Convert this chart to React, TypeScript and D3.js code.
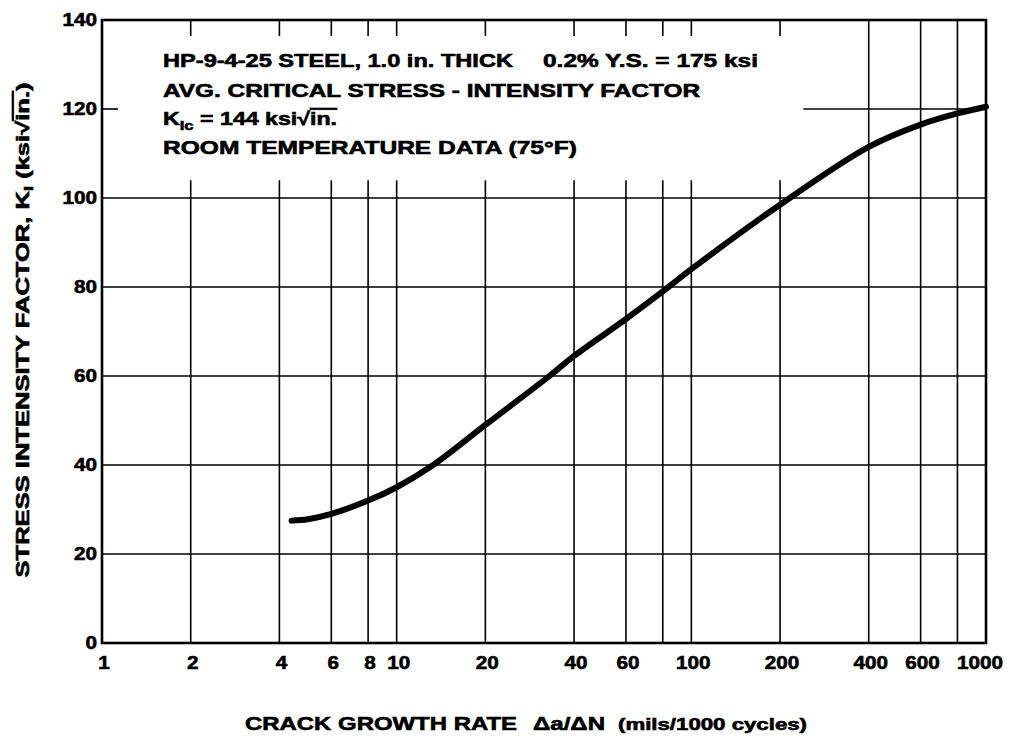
import React from 'react';
import * as d3 from 'd3';

// Crack growth rate (mils/1000 cycles) vs stress intensity factor K (ksi√in.)
const rateValues = [4.4, 5, 6, 8, 10, 13.3, 20, 33, 40, 60, 80, 100, 200, 400, 600, 800, 1000];
const kValues = [27.5, 27.8, 29, 32, 35, 40, 49, 60, 64.5, 72.8, 79, 84, 98.5, 111.5, 116.5, 119, 120.5];

const xTickLabels = [1, 2, 4, 6, 8, 10, 20, 40, 60, 100, 200, 400, 600, 1000];
const yTicks = [0, 20, 40, 60, 80, 100, 120, 140];
const fullVertical = [400, 600, 800];
const partialVertical = [2, 4, 6, 8, 10, 20, 40, 60, 80, 100, 200];
const fullHorizontal = [20, 40, 60, 80, 100];
const kicLineStart = 240;
const partialTop = 104;

const FONT = '"Liberation Sans", Arial, Helvetica, sans-serif';

export default function App() {
  const width = 1010;
  const height = 744;
  const left = 102, right = 986, top = 20, bottom = 643;
  const x = d3.scaleLog().domain([1, 1000]).range([left, right]);
  const y = d3.scaleLinear().domain([0, 140]).range([bottom, top]);

  const line = d3
    .line<number>()
    .x((_, i) => x(rateValues[i]))
    .y((d) => y(d))
    .curve(d3.curveCatmullRom.alpha(0.5));

  const gridStroke = 1.6;
  const tickLen = 16;
  const digitW = 11.5;

  return (
    <svg
      width={width}
      height={height}
      style={{ position: 'absolute', left: 0, top: 0, background: '#fff' }}
      fontFamily={FONT}
      fontWeight="bold"
    >
      <rect x={0} y={0} width={width} height={height} fill="#fff" />
      {/* horizontal grid lines */}
      {fullHorizontal.map((v) => (
        <line key={'h' + v} x1={left} x2={right} y1={y(v)} y2={y(v)} stroke="#000" strokeWidth={gridStroke} />
      ))}
      {/* 120 line: tick at left, partial line at right */}
      <line x1={left} x2={left + tickLen} y1={y(120)} y2={y(120)} stroke="#000" strokeWidth={gridStroke} />
      <line x1={x(kicLineStart)} x2={right} y1={y(120)} y2={y(120)} stroke="#000" strokeWidth={gridStroke} />
      {/* vertical grid lines */}
      {fullVertical.map((v) => (
        <line key={'fv' + v} x1={x(v)} x2={x(v)} y1={top} y2={bottom} stroke="#000" strokeWidth={gridStroke} />
      ))}
      {partialVertical.map((v) => (
        <g key={'pv' + v}>
          <line x1={x(v)} x2={x(v)} y1={y(partialTop)} y2={bottom} stroke="#000" strokeWidth={gridStroke} />
          <line x1={x(v)} x2={x(v)} y1={top} y2={top + tickLen} stroke="#000" strokeWidth={gridStroke} />
        </g>
      ))}
      {/* frame */}
      <rect x={left} y={top} width={right - left} height={bottom - top} fill="none" stroke="#000" strokeWidth={2.6} />

      {/* curve */}
      <path d={line(kValues) || ''} fill="none" stroke="#000" strokeWidth={6} strokeLinecap="round" strokeLinejoin="round" />

      <g stroke="#000" strokeWidth={0.6}>
        {/* y tick labels */}
        {yTicks.map((v) => (
          <text key={'yt' + v} x={left - 5} y={y(v)} dy="0.36em" textAnchor="end" fontSize={18}
            textLength={String(v).length * digitW} lengthAdjust="spacingAndGlyphs">
            {v}
          </text>
        ))}
        {/* x tick labels */}
        {xTickLabels.map((v) => (
          <text key={'xt' + v} x={v === 1000 ? x(v) - 6 : x(v) + 2} y={669} textAnchor="middle" fontSize={18}
            textLength={String(v).length * digitW} lengthAdjust="spacingAndGlyphs">
            {v}
          </text>
        ))}

        {/* annotation */}
        <g fontSize={18}>
          <text x={163} y={67} textLength={350} lengthAdjust="spacingAndGlyphs">HP-9-4-25 STEEL, 1.0 in. THICK</text>
          <text x={543} y={67} textLength={215} lengthAdjust="spacingAndGlyphs">0.2% Y.S. = 175 ksi</text>
          <text x={163} y={97} textLength={537} lengthAdjust="spacingAndGlyphs">AVG. CRITICAL STRESS - INTENSITY FACTOR</text>
          <text x={163} y={125} textLength={174} lengthAdjust="spacingAndGlyphs">
            K<tspan fontSize={13} dy={5}>Ic</tspan>
            <tspan dy={-5}> = 144 ksi</tspan>
            <tspan>√</tspan>
            <tspan textDecoration="overline">in.</tspan>
          </text>
          <text x={163} y={154} textLength={414} lengthAdjust="spacingAndGlyphs">ROOM TEMPERATURE DATA (75°F)</text>
        </g>

        {/* y axis title */}
        <text transform="translate(29,330) rotate(-90)" textAnchor="middle" fontSize={18}
          textLength={495} lengthAdjust="spacingAndGlyphs">
          STRESS INTENSITY FACTOR, K<tspan fontSize={13} dy={4}>I</tspan>
          <tspan dy={-4}> (ksi</tspan>
          <tspan>√</tspan>
          <tspan textDecoration="overline">in.</tspan>
          <tspan>)</tspan>
        </text>

        {/* x axis title */}
        <text x={245} y={730} fontSize={19} textLength={272} lengthAdjust="spacingAndGlyphs">CRACK GROWTH RATE</text>
        <text x={533} y={730} fontSize={18} textLength={72} lengthAdjust="spacingAndGlyphs">Δa/ΔN</text>
        <text x={618} y={730} fontSize={16} textLength={189} lengthAdjust="spacingAndGlyphs">(mils/1000 cycles)</text>
      </g>
    </svg>
  );
}
